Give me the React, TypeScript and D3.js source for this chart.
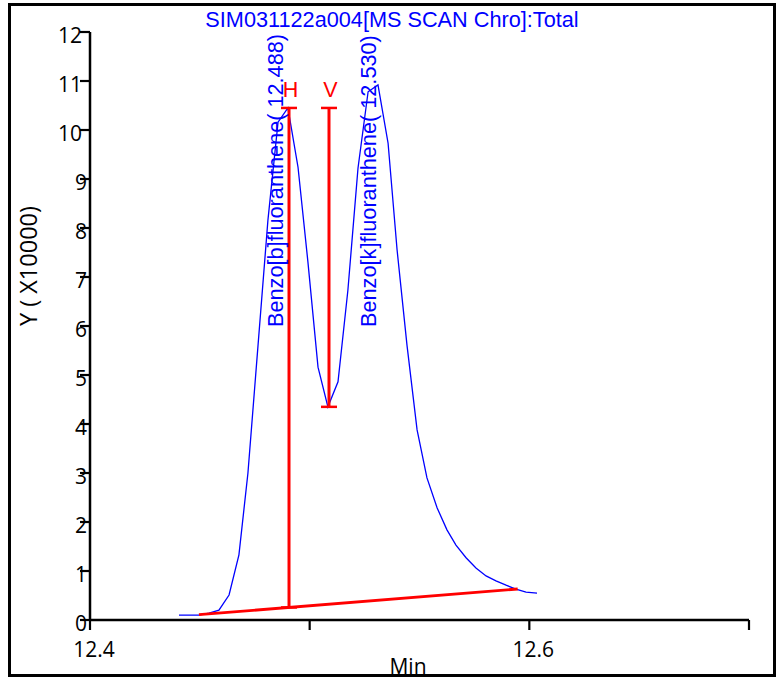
import React from "react";
import * as d3 from "d3";

const TITLE = "SIM031122a004[MS SCAN Chro]:Total";
const Y_TITLE = "Y ( X10000)";
const X_TITLE = "Min";

const times = [
  12.4405, 12.4451, 12.4496, 12.4542, 12.4587, 12.4633, 12.4678, 12.4719, 12.4765, 12.481,
  12.4856, 12.4901, 12.4947, 12.4992, 12.5038, 12.5083, 12.5129, 12.5174, 12.522, 12.5266,
  12.5311, 12.5357, 12.5398, 12.5443, 12.5489, 12.5534, 12.558, 12.5625, 12.5666, 12.5712,
  12.5757, 12.5803, 12.5848, 12.5894, 12.5939, 12.5985, 12.6035,
];
const intensity = [
  0.10, 0.10, 0.10, 0.14, 0.20, 0.51, 1.33, 3.0, 5.61, 8.16,
  10.16, 10.45, 9.24, 7.31, 5.16, 4.35, 4.86, 6.73, 9.22, 10.78,
  10.92, 9.73, 7.55, 5.61, 3.88, 2.90, 2.29, 1.84, 1.53, 1.27,
  1.06, 0.90, 0.80, 0.71, 0.63, 0.57, 0.55,
];

const baselineT = [12.4496, 12.5947];
const baselineV = [0.108, 0.633];

const peakNames = ["Benzo[b]fluoranthene( 12.488)", "Benzo[k]fluoranthene( 12.530)"];
const peakRT = [12.488, 12.53];
const peakLabelV = 5.98;

const markerNames = ["H", "V"];
const markerT = [12.4906, 12.5088];
const markerTop = [10.45, 10.45];
const markerBottom = [null, 4.35];

const yTicks = [0, 1, 2, 3, 4, 5, 6, 7, 8, 9, 10, 11, 12];
const xTicks = [12.4, 12.5, 12.6, 12.7];
const xTickLabels = ["12.4", "", "12.6", ""];

export default function App() {
  const W = 778, H = 677;
  const x = d3.scaleLinear().domain([12.4, 12.7]).range([90, 749]);
  const y = d3.scaleLinear().domain([0, 12]).range([620, 32]);
  const line = d3.line<number>().x((_, i) => x(times[i])).y((d) => y(d));
  const baseAt = (t: number) =>
    baselineV[0] + ((t - baselineT[0]) / (baselineT[1] - baselineT[0])) * (baselineV[1] - baselineV[0]);

  const blue = "#0000ff";
  const red = "#ff0000";
  const axisFont = "'Open Sans', sans-serif";
  const labelFont = "'Liberation Sans', Arial, sans-serif";

  return (
    <svg width={W} height={H} style={{ position: "fixed", left: 0, top: 0, background: "#fff" }}>
      <rect x={0} y={0} width={W} height={H} fill="#fff" />
      <rect x={9.5} y={4.5} width={765} height={671} fill="none" stroke="#000" strokeWidth={3} />

      {/* title */}
      <text x={392} y={27} textAnchor="middle" fontFamily={labelFont} fontSize={21.7} fill={blue}>
        {TITLE}
      </text>

      {/* axes */}
      <line x1={x(12.4)} x2={x(12.4)} y1={y(12)} y2={y(0)} stroke="#000" strokeWidth={2.5} />
      <line x1={x(12.4)} x2={x(12.7)} y1={y(0)} y2={y(0)} stroke="#000" strokeWidth={2.5} />
      {yTicks.map((v) => (
        <g key={"y" + v}>
          <line x1={x(12.4) - 10} x2={x(12.4)} y1={y(v)} y2={y(v)} stroke="#000" strokeWidth={2.2} />
          <text
            x={87 - (String(v).length > 1 ? 5 : 0)}
            y={y(v) + 11}
            textAnchor="end"
            fontFamily={axisFont}
            fontSize={21}
            fill="#000"
          >
            {v}
          </text>
        </g>
      ))}
      {xTicks.map((t, i) => (
        <g key={"x" + t}>
          <line x1={x(t)} x2={x(t)} y1={y(0)} y2={y(0) + 10} stroke="#000" strokeWidth={2.2} />
          {xTickLabels[i] && (
            <text x={x(t) + 4} y={657} textAnchor="middle" fontFamily={axisFont} fontSize={21} fill="#000">
              {xTickLabels[i]}
            </text>
          )}
        </g>
      ))}
      <text x={408} y={674} textAnchor="middle" fontFamily={axisFont} fontSize={21} fill="#000">
        {X_TITLE}
      </text>
      <text
        transform={`translate(37,266) rotate(-90)`}
        textAnchor="middle"
        fontFamily={axisFont}
        fontSize={23.5}
        fill="#000"
      >
        {Y_TITLE}
      </text>

      {/* chromatogram */}
      <path d={line(intensity) || ""} fill="none" stroke={blue} strokeWidth={1.3} />

      {/* baseline */}
      <line
        x1={x(baselineT[0])}
        y1={y(baselineV[0])}
        x2={x(baselineT[1])}
        y2={y(baselineV[1])}
        stroke={red}
        strokeWidth={2.8}
      />

      {/* markers */}
      {markerNames.map((n, i) => {
        const bottom = markerBottom[i] == null ? baseAt(markerT[i]) : (markerBottom[i] as number);
        const cx = x(markerT[i]);
        return (
          <g key={n}>
            <line x1={cx} x2={cx} y1={y(markerTop[i])} y2={y(bottom)} stroke={red} strokeWidth={3} />
            <line x1={cx - 8} x2={cx + 8} y1={y(markerTop[i])} y2={y(markerTop[i])} stroke={red} strokeWidth={2.5} />
            <line x1={cx - 8} x2={cx + 8} y1={y(bottom)} y2={y(bottom)} stroke={red} strokeWidth={2.5} />
            <text
              x={cx + 1.5}
              y={y(markerTop[i]) - 11}
              textAnchor="middle"
              fontFamily={labelFont}
              fontSize={21.5}
              fill={red}
            >
              {n}
            </text>
          </g>
        );
      })}

      {/* peak labels */}
      {peakNames.map((n, i) => (
        <text
          key={n}
          transform={`translate(${x(peakRT[i])},${y(peakLabelV)}) rotate(-90)`}
          textAnchor="start"
          fontFamily={labelFont}
          fontSize={21.7}
          fill={blue}
        >
          {n}
        </text>
      ))}
    </svg>
  );
}
